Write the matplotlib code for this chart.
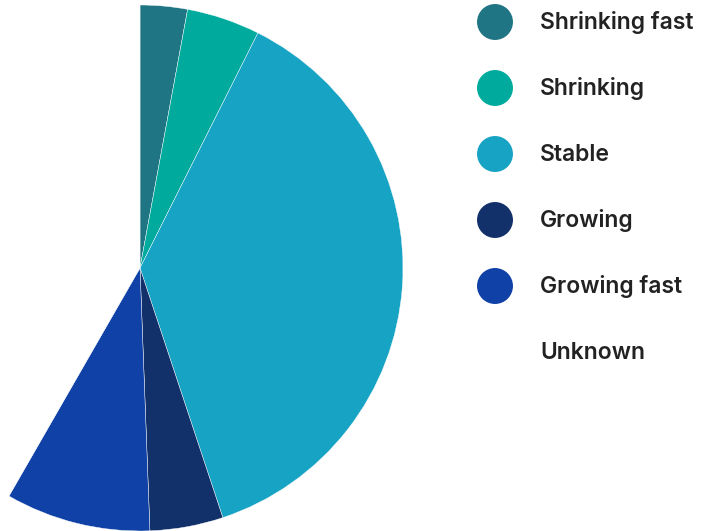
import matplotlib
matplotlib.use("Agg")
import matplotlib.pyplot as plt

labels = ["Shrinking fast", "Shrinking", "Stable", "Growing", "Growing fast", "Unknown"]
shares = [2.9, 4.5, 37.5, 4.5, 8.9, 41.7]
colors = ["#207584", "#00ab9e", "#17a3c4", "#12306a", "#0f41a6", "none"]

fig = plt.figure(figsize=(7.01, 5.31), dpi=100)

# pie axes: centre at (140, 268) px, radius 263 px
r = 263
ax = fig.add_axes([(140 - r) / 701, (531 - 268 - r) / 531, 2 * r / 701, 2 * r / 531])
ax.pie(shares, colors=colors, startangle=90, counterclock=False,
       wedgeprops=dict(linewidth=0.3, edgecolor="white"))
ax.set_xlim(-1, 1)
ax.set_ylim(-1, 1)
ax.set_aspect("equal")
ax.axis("off")

# legend drawn by hand, one row every 66 px
lg = fig.add_axes([0, 0, 1, 1], facecolor="none")
lg.set_xlim(0, 701)
lg.set_ylim(531, 0)
lg.axis("off")
for i, (lab, col) in enumerate(zip(labels, colors)):
    y = 22 + 66 * i
    if col != "none":
        lg.scatter([495], [y], s=670, color=col, edgecolors="none")
    lg.text(540, y + 1, lab, fontsize=16.5, fontweight="semibold", family="Inter",
            color="#222222", va="center", ha="left")

fig.savefig("out.png", dpi=100)
